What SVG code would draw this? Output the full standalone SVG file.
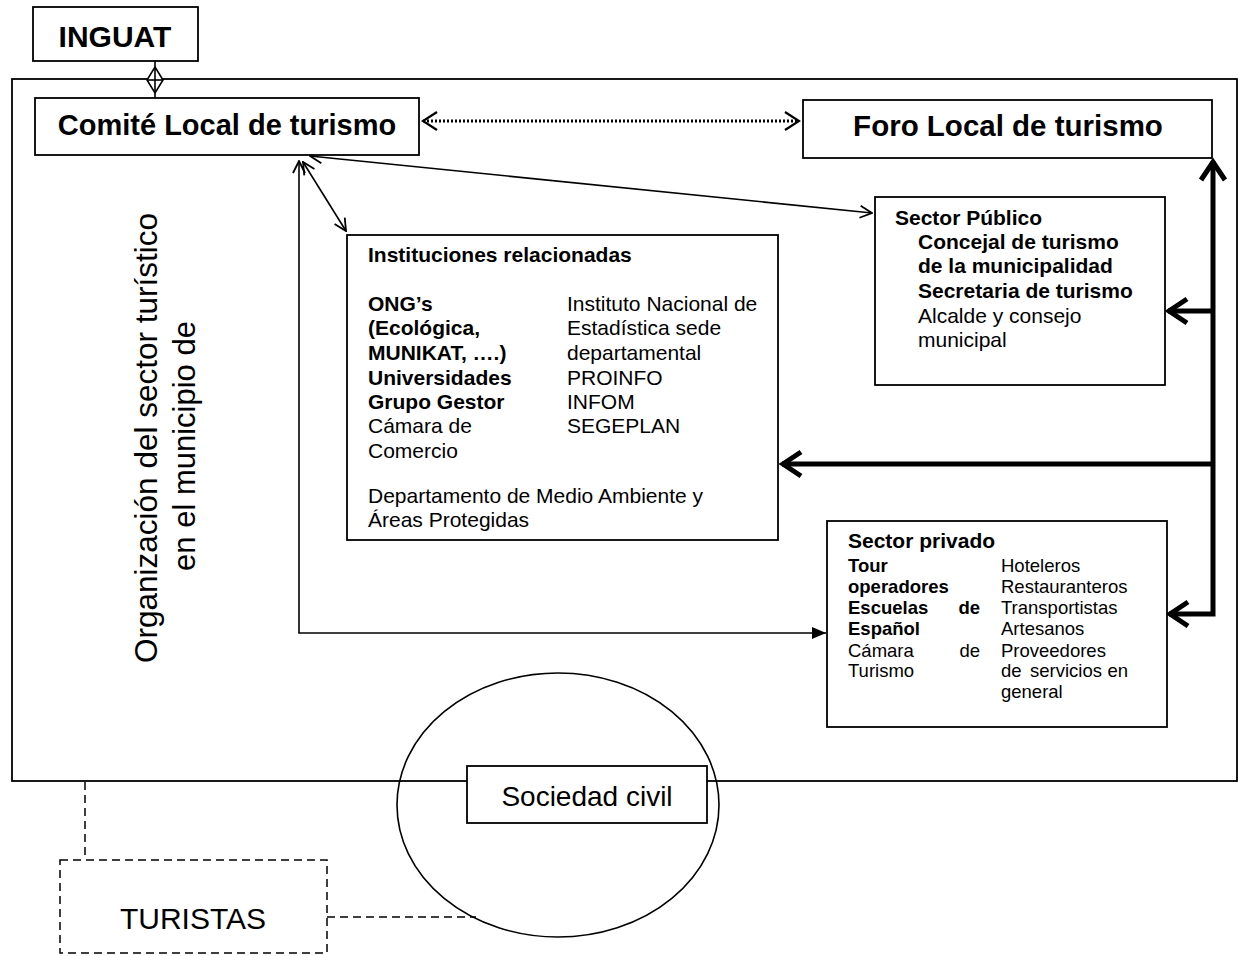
<svg xmlns="http://www.w3.org/2000/svg" width="1244" height="956" viewBox="0 0 1244 956">
<style>
text{font-family:"Liberation Sans",Arial,sans-serif;fill:#000}
.b{font-weight:bold}
.box{fill:#fff;stroke:#000;stroke-width:1.8}
.ln{fill:none;stroke:#000;stroke-width:1.6}
.thick{fill:none;stroke:#000;stroke-width:5}
.dot{fill:none;stroke:#000;stroke-width:3;stroke-dasharray:2 2}
.dash{fill:none;stroke:#000;stroke-width:1.5;stroke-dasharray:8 5}
.t21{font-size:21px}
.t18{font-size:18.5px}
</style>
<defs>
<marker id="chev" viewBox="0 0 14 14" refX="13" refY="7" markerWidth="14" markerHeight="14" markerUnits="userSpaceOnUse" orient="auto-start-reverse"><path d="M1,1 L13,7 L1,13" fill="none" stroke="#000" stroke-width="1.8"/></marker>
<marker id="chevb" viewBox="0 0 18 22" refX="16" refY="11" markerWidth="18" markerHeight="22" markerUnits="userSpaceOnUse" orient="auto-start-reverse"><path d="M2,2 L16,11 L2,20" fill="none" stroke="#000" stroke-width="2.2"/></marker>
<marker id="thk" viewBox="0 0 28 30" refX="23" refY="15" markerWidth="28" markerHeight="30" markerUnits="userSpaceOnUse" orient="auto-start-reverse"><path d="M4,3 L22,15 L4,27" fill="none" stroke="#000" stroke-width="5"/></marker>
<marker id="tri" viewBox="0 0 14 12" refX="14" refY="6" markerWidth="14" markerHeight="12" markerUnits="userSpaceOnUse" orient="auto"><path d="M0,0 L14,6 L0,12 z" fill="#000"/></marker>
</defs>

<g id="outer">
<rect x="12" y="79" width="1225" height="702" fill="none" stroke="#000" stroke-width="1.8"/>
</g>

<g id="org-label">
<text transform="translate(157,438) rotate(-90)" text-anchor="middle" font-size="31.5">Organización del sector turístico</text>
<text transform="translate(195,446) rotate(-90)" text-anchor="middle" font-size="31">en el municipio de</text>
</g>

<g id="connectors">
<line class="ln" x1="155" y1="61" x2="155" y2="98"/>
<polygon points="155,67 163,80 155,93 147,80" fill="#fff" stroke="#000" stroke-width="1.6"/>
<line class="ln" x1="155" y1="67" x2="155" y2="93"/>
<line class="ln" x1="147" y1="80" x2="163" y2="80"/>
<line class="dot" x1="423" y1="121" x2="799" y2="121" marker-start="url(#chevb)" marker-end="url(#chevb)"/>
<line class="ln" x1="310" y1="156" x2="872" y2="213" marker-start="url(#chev)" marker-end="url(#chev)"/>
<line class="ln" x1="303" y1="162" x2="346" y2="231" marker-start="url(#chev)" marker-end="url(#chev)"/>
<polyline class="ln" points="299,161 299,633 826,633" marker-start="url(#chev)" marker-end="url(#tri)"/>
<path class="thick" d="M1213,161 V614 H1169" marker-start="url(#thk)" marker-end="url(#thk)"/>
<path class="thick" d="M1213,464 H782" marker-end="url(#thk)"/>
<path class="thick" d="M1213,311 H1168" marker-end="url(#thk)"/>
<line class="dash" x1="85" y1="782" x2="85" y2="860"/>
<line class="dash" x1="327" y1="917" x2="476" y2="917"/>
</g>

<g id="inguat">
<rect class="box" x="33" y="7" width="165" height="54"/>
<text x="115" y="47" text-anchor="middle" font-size="30" class="b">INGUAT</text>
</g>

<g id="comite">
<rect class="box" x="35" y="98" width="384" height="57"/>
<text x="227" y="135" text-anchor="middle" font-size="29" class="b">Comité Local de turismo</text>
</g>

<g id="foro">
<rect class="box" x="803" y="100" width="409" height="58"/>
<text x="1008" y="136" text-anchor="middle" font-size="29.5" class="b">Foro Local de turismo</text>
</g>

<g id="instituciones">
<rect class="box" x="347" y="235" width="431" height="305"/>
<text x="368" y="262" class="b t21">Instituciones relacionadas</text>
<text x="368" y="311" class="b t21">ONG’s</text>
<text x="368" y="335" class="b t21">(Ecológica,</text>
<text x="368" y="360" class="b t21">MUNIKAT, ….)</text>
<text x="368" y="385" class="b t21">Universidades</text>
<text x="368" y="409" class="b t21">Grupo Gestor</text>
<text x="368" y="433" class="t21">Cámara de</text>
<text x="368" y="458" class="t21">Comercio</text>
<text x="567" y="311" class="t21">Instituto Nacional de</text>
<text x="567" y="335" class="t21">Estadística sede</text>
<text x="567" y="360" class="t21">departamental</text>
<text x="567" y="385" class="t21">PROINFO</text>
<text x="567" y="409" class="t21">INFOM</text>
<text x="567" y="433" class="t21">SEGEPLAN</text>
<text x="368" y="503" class="t21">Departamento de Medio Ambiente y</text>
<text x="368" y="527" class="t21">Áreas Protegidas</text>
</g>

<g id="sector-publico">
<rect class="box" x="875" y="197" width="290" height="188"/>
<text x="895" y="225" class="b t21">Sector Público</text>
<text x="918" y="249" class="b t21">Concejal de turismo</text>
<text x="918" y="273" class="b t21">de la municipalidad</text>
<text x="918" y="298" class="b t21">Secretaria de turismo</text>
<text x="918" y="323" class="t21">Alcalde y consejo</text>
<text x="918" y="347" class="t21">municipal</text>
</g>

<g id="sector-privado">
<rect class="box" x="827" y="521" width="340" height="206"/>
<text x="848" y="548" class="b t21">Sector privado</text>
<text x="848" y="572" class="b t18">Tour</text>
<text x="848" y="593" class="b t18">operadores</text>
<text x="848" y="614" class="b t18">Escuelas</text>
<text x="980" y="614" class="b t18" text-anchor="end">de</text>
<text x="848" y="635" class="b t18">Español</text>
<text x="848" y="657" class="t18">Cámara</text>
<text x="980" y="657" class="t18" text-anchor="end">de</text>
<text x="848" y="677" class="t18">Turismo</text>
<text x="1001" y="572" class="t18">Hoteleros</text>
<text x="1001" y="593" class="t18">Restauranteros</text>
<text x="1001" y="614" class="t18">Transportistas</text>
<text x="1001" y="635" class="t18">Artesanos</text>
<text x="1001" y="657" class="t18">Proveedores</text>
<text x="1001" y="677" class="t18">de</text>
<text x="1030" y="677" class="t18">servicios</text>
<text x="1128" y="677" class="t18" text-anchor="end">en</text>
<text x="1001" y="698" class="t18">general</text>
</g>

<g id="sociedad-civil">
<ellipse cx="558" cy="805" rx="161" ry="132" fill="none" stroke="#000" stroke-width="1.6"/>
<rect class="box" x="467" y="766" width="240" height="57"/>
<text x="587" y="806" text-anchor="middle" font-size="28">Sociedad civil</text>
</g>

<g id="turistas">
<rect x="60" y="860" width="267" height="93" fill="#fff" class="dash"/>
<text x="193" y="929" text-anchor="middle" font-size="30">TURISTAS</text>
</g>
</svg>
